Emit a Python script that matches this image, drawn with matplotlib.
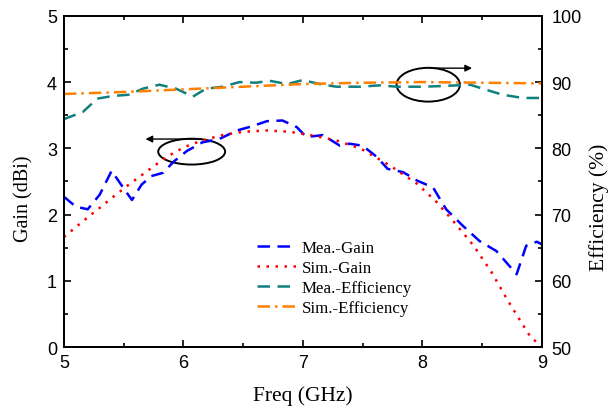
import matplotlib
matplotlib.use('Agg')
import matplotlib.pyplot as plt
from matplotlib.patches import Ellipse
from matplotlib.ticker import MultipleLocator

# measured / simulated gain (dBi)
mea_gain_freq = [5.0, 5.1, 5.2, 5.3, 5.4, 5.48, 5.57, 5.65, 5.73, 5.83, 5.92, 6.03, 6.16, 6.3,
                 6.45, 6.57, 6.7, 6.83, 6.95, 7.03, 7.17, 7.31, 7.39, 7.5, 7.62, 7.71, 7.84,
                 7.96, 8.09, 8.2, 8.34, 8.48, 8.62, 8.79, 8.87, 8.96, 9.0]
mea_gain = [2.27, 2.12, 2.08, 2.3, 2.66, 2.45, 2.22, 2.45, 2.58, 2.63, 2.8, 2.96, 3.09, 3.14,
            3.27, 3.33, 3.41, 3.42, 3.32, 3.17, 3.2, 3.04, 3.07, 3.04, 2.87, 2.69, 2.64,
            2.51, 2.41, 2.08, 1.83, 1.6, 1.45, 1.1, 1.53, 1.59, 1.55]

sim_gain_freq = [5.0, 5.16, 5.32, 5.4, 5.55, 5.7, 5.86, 6.01, 6.16, 6.33, 6.5, 6.7, 6.89, 7.06,
                 7.28, 7.49, 7.73, 7.96, 8.12, 8.26, 8.43, 8.58, 8.72, 8.9, 9.0]
sim_gain = [1.66, 1.9, 2.13, 2.25, 2.46, 2.66, 2.87, 3.02, 3.12, 3.2, 3.25, 3.27, 3.25, 3.2,
            3.12, 2.99, 2.74, 2.46, 2.19, 1.9, 1.53, 1.13, 0.69, 0.17, 0.0]

# measured / simulated efficiency (%)
mea_eff_freq = [5.0, 5.16, 5.28, 5.41, 5.55, 5.66, 5.8, 5.94, 6.08, 6.19, 6.33, 6.47, 6.61, 6.72,
                6.87, 7.0, 7.14, 7.28, 7.48, 7.64, 7.79, 8.0, 8.17, 8.4, 8.56, 8.67, 8.84, 9.0]
mea_eff = [84.4, 85.5, 87.5, 87.9, 88.1, 89.0, 89.6, 89.0, 87.8, 89.0, 89.3, 90.0, 89.9, 90.2,
           89.7, 90.3, 89.7, 89.3, 89.3, 89.5, 89.3, 89.3, 89.4, 89.6, 88.7, 88.1, 87.6, 87.6]

sim_eff_freq = [5.0, 5.5, 6.0, 6.5, 7.0, 7.5, 8.0, 8.5, 9.0]
sim_eff = [88.2, 88.5, 88.9, 89.3, 89.7, 89.9, 90.0, 89.9, 89.8]

SANS = 'Liberation Sans'
SERIF = 'Liberation Serif'
plt.rcParams['font.family'] = SANS

fig = plt.figure(figsize=(6.08, 4.10), dpi=100)
ax1 = fig.add_axes([0.105, 0.151, 0.786, 0.808])
ax2 = ax1.twinx()

l1, = ax1.plot(mea_gain_freq, mea_gain, color='#0000ff', lw=1.8, ls=(0, (5, 3)), label='Mea.-Gain')
l2, = ax1.plot(sim_gain_freq, sim_gain, color='#ff0000', lw=1.8, ls=(0, (1, 2.6)), label='Sim.-Gain')
l3, = ax2.plot(mea_eff_freq, mea_eff, color='#0f8080', lw=1.8, ls=(0, (5, 3)), label='Mea.-Efficiency')
l4, = ax2.plot(sim_eff_freq, sim_eff, color='#ff7f00', lw=1.8, ls=(0, (5, 2, 1, 2)), label='Sim.-Efficiency')

ax1.set_xlim(5, 9)
ax1.set_ylim(0, 5)
ax2.set_ylim(50, 100)

ax1.xaxis.set_major_locator(MultipleLocator(1))
ax1.xaxis.set_minor_locator(MultipleLocator(0.5))
ax1.yaxis.set_major_locator(MultipleLocator(1))
ax1.yaxis.set_minor_locator(MultipleLocator(0.5))
ax2.yaxis.set_major_locator(MultipleLocator(10))
ax2.yaxis.set_minor_locator(MultipleLocator(5))

ax1.tick_params(which='both', direction='in', top=True, right=False, width=1.2)
ax1.tick_params(which='major', length=5, labelsize=13, pad=5)
ax1.tick_params(which='minor', length=3)
ax2.tick_params(which='both', direction='in', width=1.2)
ax2.tick_params(which='major', length=5, labelsize=13, pad=7)
ax2.tick_params(which='minor', length=3)
for ax in (ax1, ax2):
    for sp in ax.spines.values():
        sp.set_linewidth(1.4)

ax1.set_xlabel('Freq (GHz)', fontfamily=SERIF, fontsize=15.5, labelpad=10)
# y labels sit a bit below the axes centre
fig.text(0.040, 0.515, 'Gain (dBi)', fontfamily=SERIF, fontsize=14.5,
         rotation=90, ha='center', va='center')
fig.text(0.985, 0.495, 'Efficiency (%)', fontfamily=SERIF, fontsize=15.5,
         rotation=90, ha='center', va='center')

# circles marking which axis each pair of curves belongs to
ax1.add_patch(Ellipse((6.07, 2.95), 0.56, 0.39, fill=False, ec='black', lw=1.4))
ax1.annotate('', xy=(5.66, 3.14), xytext=(6.18, 3.14),
             arrowprops=dict(arrowstyle='-|>', color='black', lw=1.0, mutation_scale=10))
ax1.add_patch(Ellipse((8.05, 3.96), 0.53, 0.51, fill=False, ec='black', lw=1.4))
ax1.annotate('', xy=(8.44, 4.21), xytext=(8.04, 4.21),
             arrowprops=dict(arrowstyle='-|>', color='black', lw=1.0, mutation_scale=10))

leg = ax1.legend(handles=[l1, l2, l3, l4], loc='upper left', bbox_to_anchor=(0.372, 0.368),
                 frameon=False, handlelength=2.35, handletextpad=0.3, labelspacing=0.22,
                 prop={'family': SERIF, 'size': 12.2})

fig.savefig('out.png', dpi=100)
